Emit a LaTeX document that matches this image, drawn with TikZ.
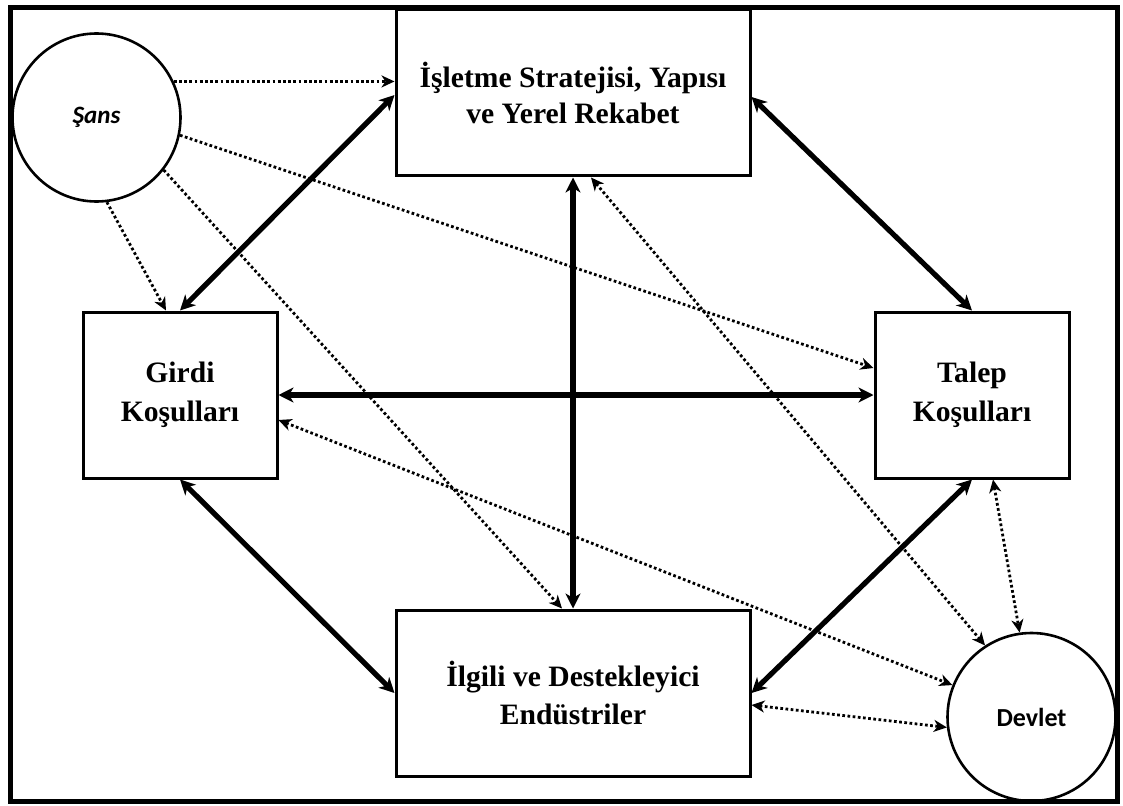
\documentclass[tikz,border=0pt]{standalone}
\usepackage{fontspec}
\setmainfont{Liberation Serif}
\newfontfamily\calfont{Carlito}
\usetikzlibrary{arrows.meta,calc}

\begin{document}
\begin{tikzpicture}[x=1pt,y=-1pt,
  factorbox/.style={draw,line width=3pt,rectangle,align=center,inner sep=0pt,
    font=\bfseries\fontsize{29.6}{38.5}\selectfont},
  wide/.style={minimum width=354pt,minimum height=166pt},
  narrow/.style={minimum width=194pt,minimum height=166pt},
  outside/.style={draw,line width=2.6pt,circle,minimum size=168pt,inner sep=0pt},
  strong/.style={line width=5.2pt,{Stealth[length=15pt,width=15pt,inset=4.5pt]}-{Stealth[length=15pt,width=15pt,inset=4.5pt]}},
  weak/.style={line width=2.8pt,dash pattern=on 2.7pt off 2.5pt},
  onehead/.style={weak,-{Stealth[length=13pt,width=12pt,inset=4pt]}},
  twoheads/.style={weak,{Stealth[length=13pt,width=12pt,inset=4pt]}-{Stealth[length=13pt,width=12pt,inset=4pt]}}
]
\useasboundingbox (0,0) rectangle (1123,805);
\draw[line width=5pt] (10,8) rectangle (1117,801);

% the four determinants
\node[factorbox,wide,font=\bfseries\fontsize{29.6}{35.5}\selectfont] (firm) at (573,93) {İşletme Stratejisi, Yapısı\\ve Yerel Rekabet};
\node[factorbox,narrow] (input)  at (180,395) {Girdi\\Koşulları};
\node[factorbox,narrow] (demand) at (972,395) {Talep\\Koşulları};
\node[factorbox,wide]   (rel)    at (573,693) {İlgili ve Destekleyici\\Endüstriler};

% the two outside influences
\node[outside,font=\calfont\bfseries\itshape\fontsize{25}{30}\selectfont] (chance) at (96.5,117.5) {Şans};
\node[outside,font=\calfont\bfseries\fontsize{26}{30}\selectfont] (gov) at (1031.5,717) {\raisebox{-3pt}{Devlet}};

% links between the determinants
\draw[strong] (firm.west |- 0,95) -- (input.north);
\draw[strong] (firm.east |- 0,97) -- (demand.north);
\draw[strong] (firm.south) -- (rel.north);
\draw[strong] (input.east) -- (demand.west);
\draw[strong] (input.south) -- (rel.west);
\draw[strong] (demand.south) -- (rel.east);

% influence of chance
\draw[onehead] (chance.25) -- (chance.25 -| firm.west);
\draw[onehead] (chance.-12) -- (demand.west |- 0,368);
\draw[onehead] (chance.-83) -- (input.north -| 166,0);
\draw[onehead] (chance.-38) -- (rel.north -| 562,0);

% influence of government
\draw[twoheads] (input.east |- 0,420) -- (gov.158);
\draw[twoheads] (rel.east |- 0,705) -- (gov.187);
\draw[twoheads] (firm.south -| 591,0) -- (gov.123);
\draw[twoheads] (demand.south -| 993,0) -- (gov.98);
\end{tikzpicture}
\end{document}
